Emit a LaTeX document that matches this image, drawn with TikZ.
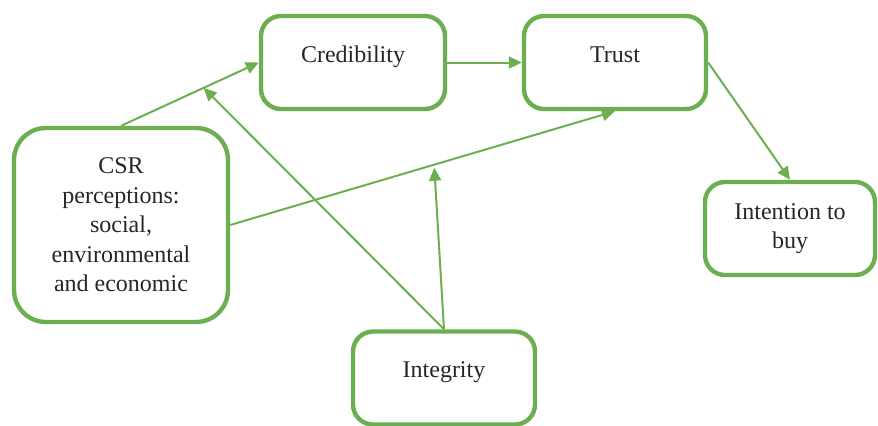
\documentclass[tikz,border=0pt]{standalone}
\usepackage{fontspec}
\setmainfont{Liberation Serif}
\usetikzlibrary{arrows.meta}
\definecolor{boxgreen}{RGB}{108,175,80}

\begin{document}
\begin{tikzpicture}[x=0.5pt, y=-0.5pt,
  box/.style={draw=boxgreen, line width=2.2pt, rounded corners=10pt, align=center,
    inner sep=2pt, font=\fontsize{12}{14.75}\selectfont, text=black!85},
  link/.style={draw=boxgreen, line width=1pt, -{Triangle[length=6.5pt, width=6pt]}}]

  \useasboundingbox (0,0) rectangle (878,425);

  \node[box, minimum width=107pt, minimum height=97pt, rounded corners=16pt] (csr) at (121,225)
    {CSR\\perceptions:\\social,\\environmental\\and economic};
  \node[box, minimum width=92pt, minimum height=46.5pt, text depth=8pt] (cred) at (353,62.5) {Credibility};
  \node[box, minimum width=91pt, minimum height=46.5pt, text depth=8pt] (trust) at (615,62.5) {Trust};
  \node[box, minimum width=85pt, minimum height=46.5pt] (intent) at (790,228.5) {Intention to\\buy};
  \node[box, minimum width=91pt, minimum height=46.5pt, text depth=8.5pt] (integ) at (444,378) {Integrity};

  % direct paths
  \draw[link] (csr.north) -- coordinate[pos=0.6] (m1) (cred.west);
  \draw[link] (cred.east) -- (trust.west);
  \draw[link] (trust.east) -- (intent.north);
  \draw[link] (csr.east) -- coordinate[pos=0.53] (m2) (trust.south);

  % integrity acting on the two paths
  \draw[link] (integ.north) -- (m1);
  \draw[link, shorten >=1.5pt] (integ.north) -- (m2);
\end{tikzpicture}
\end{document}
